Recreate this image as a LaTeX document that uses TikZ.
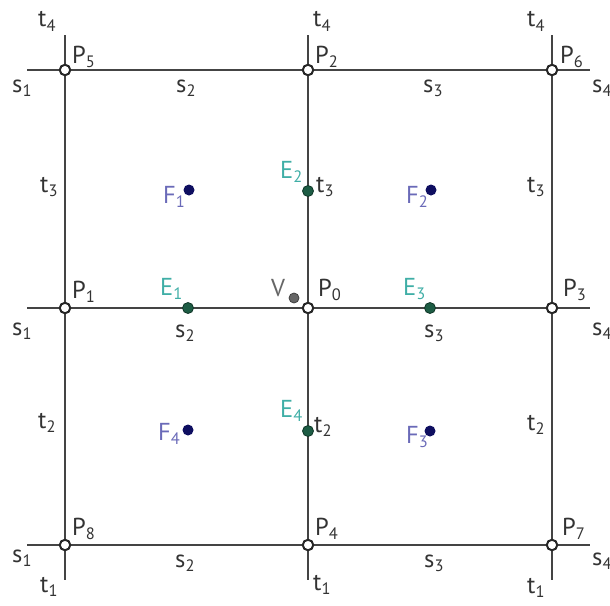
\documentclass[tikz,border=0pt]{standalone}
\usepackage{fontspec}
\setmainfont{PT Sans}
\definecolor{lineg}{HTML}{444444}
\definecolor{labc}{HTML}{333333}
\definecolor{elc}{HTML}{3FAEA6}
\definecolor{flc}{HTML}{6A6AB8}
\definecolor{edgc}{HTML}{1D5C44}
\definecolor{facec}{HTML}{0E0E60}
\definecolor{vc}{HTML}{666666}
\newcommand\lb[2]{#1\raisebox{-4.5pt}{\fontsize{16.5}{16.5}\selectfont #2}}
\begin{document}
\begin{tikzpicture}[x=1pt,y=-1pt,
  ln/.style={line width=2.7pt, draw=lineg},
  vtx/.style={circle, draw=black!85, fill=white, line width=2pt, inner sep=0pt, minimum size=10.5pt},
  edot/.style={circle, fill=edgc, draw=edgc!60!black, line width=0.8pt, inner sep=0pt, minimum size=11pt},
  fdot/.style={circle, fill=facec, inner sep=0pt, minimum size=11pt},
  vdot/.style={circle, fill=vc, draw=black!75, line width=0.8pt, inner sep=0pt, minimum size=10pt},
  lab/.style={text=labc, font=\fontsize{24.5}{24.5}\selectfont, inner sep=0pt, anchor=base west},
  elab/.style={lab, text=elc},
  flab/.style={lab, text=flc},
]
\useasboundingbox (0,0) rectangle (610,605);
% line end coordinates
\coordinate (hL1) at (27,70);  \coordinate (hR1) at (590,70);
\coordinate (hL2) at (27,308); \coordinate (hR2) at (590,308);
\coordinate (hL3) at (27,545); \coordinate (hR3) at (590,545);
\coordinate (vT1) at (65,35);  \coordinate (vB1) at (65,580);
\coordinate (vT2) at (308,35); \coordinate (vB2) at (308,580);
\coordinate (vT3) at (552,35); \coordinate (vB3) at (552,580);
\draw[ln] (hL1) -- (hR1);
\draw[ln] (hL2) -- (hR2);
\draw[ln] (hL3) -- (hR3);
\draw[ln] (vT1) -- (vB1);
\draw[ln] (vT2) -- (vB2);
\draw[ln] (vT3) -- (vB3);
% vertices
\node[vtx] (P5) at (65,70) {};
\node[vtx] (P2) at (308,70) {};
\node[vtx] (P6) at (552,70) {};
\node[vtx] (P1) at (65,308) {};
\node[vtx] (P0) at (308,308) {};
\node[vtx] (P3) at (552,308) {};
\node[vtx] (P8) at (65,545) {};
\node[vtx] (P4) at (308,545) {};
\node[vtx] (P7) at (552,545) {};
% edge points
\node[edot] (E1) at (188,308) {};
\node[edot] (E3) at (430,308) {};
\node[edot] (E2) at (308,191) {};
\node[edot] (E4) at (308,431) {};
% face points
\node[fdot] (F1) at (189,190) {};
\node[fdot] (F2) at (431,190) {};
\node[fdot] (F4) at (188,430) {};
\node[fdot] (F3) at (430,431) {};
% V
\node[vdot] (V) at (294,298) {};
% labels top row
\node[lab] (lt4a) at (38,27) {\lb{t}{4}};
\node[lab] (lP5) at (72,63) {\lb{P}{5}};
\node[lab] (ls1a) at (12,92) {\lb{s}{1}};
\node[lab] (ls2a) at (176,92) {\lb{s}{2}};
\node[lab] (lt4b) at (313,27) {\lb{t}{4}};
\node[lab] (lP2) at (315,63) {\lb{P}{2}};
\node[lab] (ls3a) at (423,92) {\lb{s}{3}};
\node[lab] (lt4c) at (527,27) {\lb{t}{4}};
\node[lab] (lP6) at (560,63) {\lb{P}{6}};
\node[lab] (ls4a) at (592,92) {\lb{s}{4}};
% t3 row
\node[lab] (lt3a) at (40,192) {\lb{t}{3}};
\node[lab] (lt3b) at (316,192) {\lb{t}{3}};
\node[lab] (lt3c) at (527,192) {\lb{t}{3}};
\node[elab] (lE2) at (280,178) {\lb{E}{2}};
\node[flab] (lF1) at (163,203) {\lb{F}{1}};
\node[flab] (lF2) at (406,203) {\lb{F}{2}};
% middle row
\node[lab] (lP1) at (72,298) {\lb{P}{1}};
\node[lab] (ls1b) at (12,335) {\lb{s}{1}};
\node[elab] (lE1) at (160,295) {\lb{E}{1}};
\node[lab] (ls2b) at (175,337) {\lb{s}{2}};
\node[lab, text=vc] (lV) at (271,296) {V};
\node[lab] (lP0) at (318,296) {\lb{P}{0}};
\node[elab] (lE3) at (403,295) {\lb{E}{3}};
\node[lab] (ls3b) at (424,337) {\lb{s}{3}};
\node[lab] (lP3) at (563,296) {\lb{P}{3}};
\node[lab] (ls4b) at (592,335) {\lb{s}{4}};
% t2 row
\node[lab] (lt2a) at (38,428) {\lb{t}{2}};
\node[lab] (lt2b) at (314,432) {\lb{t}{2}};
\node[lab] (lt2c) at (527,430) {\lb{t}{2}};
\node[elab] (lE4) at (280,417) {\lb{E}{4}};
\node[flab] (lF4) at (158,440) {\lb{F}{4}};
\node[flab] (lF3) at (406,443) {\lb{F}{3}};
% bottom row
\node[lab] (lP8) at (72,535) {\lb{P}{8}};
\node[lab] (ls1c) at (12,562) {\lb{s}{1}};
\node[lab] (lt1a) at (40,592) {\lb{t}{1}};
\node[lab] (ls2c) at (175,567) {\lb{s}{2}};
\node[lab] (lP4) at (315,535) {\lb{P}{4}};
\node[lab] (lt1b) at (313,590) {\lb{t}{1}};
\node[lab] (ls3c) at (424,567) {\lb{s}{3}};
\node[lab] (lP7) at (562,535) {\lb{P}{7}};
\node[lab] (ls4c) at (592,565) {\lb{s}{4}};
\node[lab] (lt1c) at (527,593) {\lb{t}{1}};
\end{tikzpicture}
\end{document}
